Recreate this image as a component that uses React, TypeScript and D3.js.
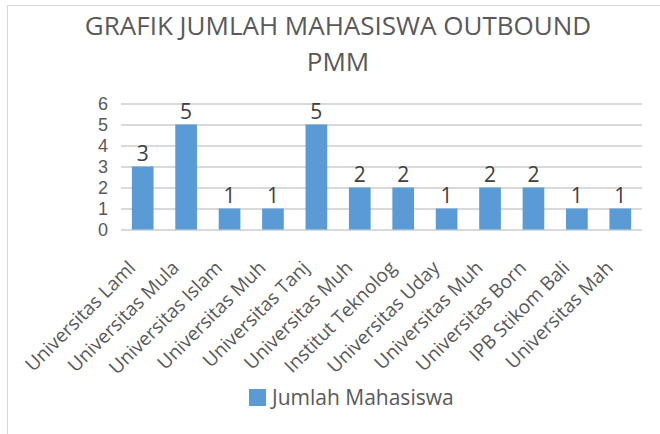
import React, { useRef, useEffect } from 'react';
import * as d3 from 'd3';

// Data (labels are clipped the same way as in the original)
const categories = [
    'Universitas Laml',
    'Universitas Mula',
    'Universitas Islam',
    'Universitas Muh',
    'Universitas Tanj',
    'Universitas Muh ',
    'Institut Teknolog',
    'Universitas Uday',
    'Universitas Muh  ',
    'Universitas Born',
    'IPB Stikom Bali',
    'Universitas Mah',
];
const jumlahMahasiswa = [3, 5, 1, 1, 5, 2, 2, 1, 2, 2, 1, 1];
const yTicks = [0, 1, 2, 3, 4, 5, 6];
const titleLines = ['GRAFIK JUMLAH MAHASISWA OUTBOUND', 'PMM'];
const seriesName = 'Jumlah Mahasiswa';

const FONT = "'Open Sans', sans-serif";
const TICK_FONT = "'Liberation Sans', sans-serif";

const App = () => {
    const ref = useRef<SVGSVGElement>(null);

    useEffect(() => {
        const svg = d3.select(ref.current);
        svg.selectAll('*').remove();

        const plot = { left: 121, right: 642, top: 103.5, bottom: 229.5 };

        // chart frame (only top/left edges visible in the crop)
        svg.append('rect')
            .attr('x', 7.5).attr('y', 5.5)
            .attr('width', 700).attr('height', 500)
            .attr('fill', '#fff')
            .attr('stroke', '#d9d9d9');

        // --- Title ---
        svg.append('g')
            .selectAll('text')
            .data(titleLines)
            .enter()
            .append('text')
            .attr('x', 338)
            .attr('y', (d, i) => 35 + i * 36)
            .attr('text-anchor', 'middle')
            .attr('font-family', FONT)
            .attr('font-size', 26)
            .attr('fill', '#595959')
            .text(d => d);

        // --- Scales ---
        const x = d3.scaleBand<string>()
            .domain(categories)
            .range([plot.left, plot.right])
            .paddingInner(0.5)
            .paddingOuter(0.25);

        const y = d3.scaleLinear()
            .domain([0, 6])
            .range([plot.bottom, plot.top]);

        // --- Grid lines ---
        svg.append('g')
            .attr('transform', `translate(${plot.left},0)`)
            .call(d3.axisLeft(y).tickValues(yTicks).tickSize(-(plot.right - plot.left)).tickFormat(() => ''))
            .call(g => g.select('.domain').remove())
            .selectAll('.tick line')
            .attr('stroke', '#d9d9d9')
            .attr('stroke-width', 2);

        // --- Y labels ---
        svg.append('g')
            .selectAll('text')
            .data(yTicks)
            .enter()
            .append('text')
            .attr('x', 108)
            .attr('y', d => y(d))
            .attr('dy', '0.36em')
            .attr('text-anchor', 'end')
            .attr('font-family', TICK_FONT)
            .attr('font-size', 18)
            .attr('fill', '#595959')
            .text(d => d);

        // --- Bars ---
        svg.append('g')
            .selectAll('rect')
            .data(jumlahMahasiswa)
            .enter()
            .append('rect')
            .attr('x', (d, i) => x(categories[i])!)
            .attr('y', d => y(d))
            .attr('width', x.bandwidth())
            .attr('height', d => y(0) - y(d))
            .attr('fill', '#5b9bd5');

        // --- Data labels ---
        svg.append('g')
            .selectAll('text')
            .data(jumlahMahasiswa)
            .enter()
            .append('text')
            .attr('x', (d, i) => x(categories[i])! + x.bandwidth() / 2)
            .attr('y', d => y(d) - 6)
            .attr('text-anchor', 'middle')
            .attr('font-family', FONT)
            .attr('font-size', 21)
            .attr('fill', '#404040')
            .text(d => d);

        // --- X labels, rotated ---
        svg.append('g')
            .selectAll('text')
            .data(categories)
            .enter()
            .append('text')
            .attr('transform', d => `translate(${x(d)! + x.bandwidth() / 2 - 6},269) rotate(-45)`)
            .attr('text-anchor', 'end')
            .attr('font-family', FONT)
            .attr('font-size', 19)
            .attr('fill', '#595959')
            .text(d => d.trim());

        // --- Legend ---
        const legend = svg.append('g').attr('transform', 'translate(249,389)');
        legend.append('rect')
            .attr('width', 17).attr('height', 17)
            .attr('fill', '#5b9bd5');
        legend.append('text')
            .attr('x', 23)
            .attr('y', 16)
            .attr('font-family', FONT)
            .attr('font-size', 21)
            .attr('fill', '#595959')
            .text(seriesName);
    }, []);

    return (
        <div style={{ position: 'absolute', left: 0, top: 0, width: 660, height: 434, background: '#fff' }}>
            <svg ref={ref} width={660} height={434} style={{ display: 'block' }}></svg>
        </div>
    );
};

export default App;
